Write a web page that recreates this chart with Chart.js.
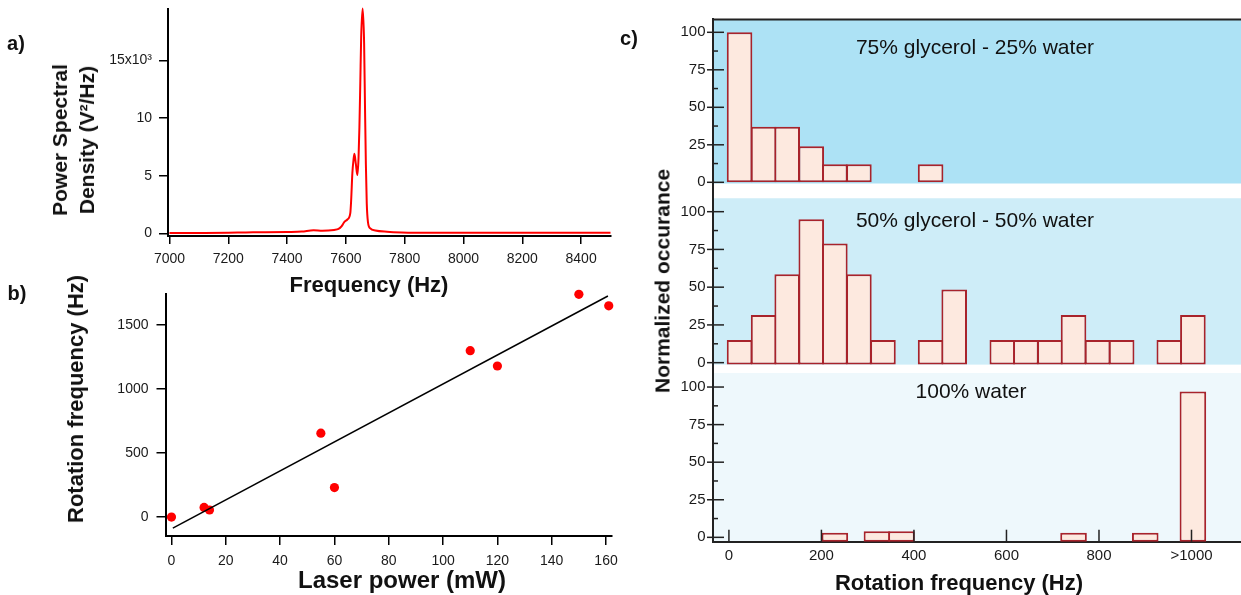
<!DOCTYPE html>
<html><head><meta charset="utf-8">
<script src="https://cdn.jsdelivr.net/npm/chart.js@4.4.1/dist/chart.umd.min.js"></script>
<style>
html,body{margin:0;padding:0;background:#fff;}
#wrap{position:relative;width:1241px;height:595px;overflow:hidden;background:#fff;font-family:"Liberation Sans",Arial,Helvetica,sans-serif;color:#111;}
canvas{position:absolute;}
.t{position:absolute;white-space:nowrap;line-height:1;transform:translate(-50%,-50%);}
.r{transform:translate(-50%,-50%) rotate(-90deg);}
.b{font-weight:bold;}
</style></head><body>
<div id="wrap">
<canvas id="ca" width="620" height="280" style="left:0;top:0"></canvas>
<canvas id="cb" width="620" height="315" style="left:0;top:280px"></canvas>
<canvas id="c1" width="621" height="191" style="left:620px;top:0"></canvas>
<canvas id="c2" width="621" height="178" style="left:620px;top:191px"></canvas>
<canvas id="c3" width="621" height="226" style="left:620px;top:369px"></canvas>

<div class="t b" style="left:16px;top:43px;font-size:20px">a)</div>
<div class="t b" style="left:17px;top:293px;font-size:20px">b)</div>
<div class="t b" style="left:629px;top:38px;font-size:20px">c)</div>
<div class="t b r" style="left:72.5px;top:139.5px;font-size:21px;line-height:27px;text-align:center">Power Spectral<br>Density (V²/Hz)</div>
<div class="t b" style="left:369px;top:285px;font-size:22px">Frequency (Hz)</div>
<div class="t b r" style="left:76px;top:399px;font-size:22px">Rotation frequency (Hz)</div>
<div class="t b" style="left:402px;top:580px;font-size:24px">Laser power (mW)</div>
<div class="t b r" style="left:662px;top:281px;font-size:21px">Normalized occurance</div>
<div class="t b" style="left:959px;top:583px;font-size:22px">Rotation frequency (Hz)</div>
<div class="t" style="left:975px;top:46px;font-size:21px">75% glycerol - 25% water</div>
<div class="t" style="left:975px;top:219px;font-size:21px">50% glycerol - 50% water</div>
<div class="t" style="left:971px;top:390px;font-size:21px">100% water</div>
</div>
<script>
// ---------- Panel a: power spectral density ----------
const psdFreqHz = [7000,7100,7200,7260,7300,7400,7450,7490,7520,7560,7575,7585,7595,7605,7615,7618,7622,7626,7629,7634,7639,7643,7646,7649,7652,7657,7662,7665,7668,7671,7675,7683,7700,7740,7790,7890,8000,8200,8400,8500];
const psdValue  = [40,40,50,80,90,120,150,260,230,300,380,600,1000,1200,1750,2900,5200,6400,6900,6000,5050,6500,9200,13000,17000,19500,16500,11000,6000,2600,1000,430,250,140,80,50,50,50,50,50];
const psdXTicks = [7000,7200,7400,7600,7800,8000,8200,8400];
const psdYTicks = [0,5000,10000,15000];
const psdTickLabels = ['0','5','10','15x10³'];

// ---------- Panel b: rotation frequency vs laser power ----------
const laserPowerMW   = [0, 12, 14, 55, 60, 110, 120, 150, 161];
const rotationFreqHz = [0, 75, 55, 655, 230, 1300, 1180, 1740, 1650];
const fitPowerMW = [0.5, 160.7];
const fitFreqHz  = [-86, 1727];
const powerTicks = [0,20,40,60,80,100,120,140,160];
const rotTicksB  = [0,500,1000,1500];

// ---------- Panel c: histograms ----------
const binCenterHz = [23, 75, 126, 178, 229, 281, 333, 384, 436, 487, 539, 591, 642, 694, 745, 797, 849, 900, 952, 1003];
const occ75Glycerol = [100, 37, 37, 24, 12, 12, null, null, 12, null, null, null, null, null, null, null, null, null, null, null];
const occ50Glycerol = [15, 31.5, 58.5, 95, 79, 58.5, 15, null, 15, 48.5, null, 15, 15, 15, 31.5, 15, 15, null, 15, 31.5];
const waterBinHz = [229, 320, 373, 745, 900, 1003];
const occWater   = [3, 4, 4, 3, 3, 97];
const rotTickValues = [0,200,400,600,800,1000];
const rotTickLabels = ['0','200','400','600','800','>1000'];
const occTicks = [0,25,50,75,100];

Chart.defaults.font.family = '"Liberation Sans", Arial, Helvetica, sans-serif';
Chart.defaults.color = '#1a1a1a';

function fixY(w){ return s => { s.width = w; s.paddingTop = 0; s.paddingBottom = 0; }; }
function fixX(h){ return s => { s.height = h; s.paddingLeft = 0; s.paddingRight = 0; }; }
function setTicks(vals){ return s => { s.ticks = vals.map(v => ({value:v})); }; }
const base = {responsive:false, animation:false, devicePixelRatio:1, events:[],
  plugins:{legend:{display:false}, tooltip:{enabled:false}, title:{display:false}}};
const axisBorder = {display:true, color:'#000', width:2};
function outTicks(len){ return {display:true, drawOnChartArea:false, drawTicks:true, tickLength:len, color:'#000', lineWidth:1.5}; }

// Panel a
new Chart(document.getElementById('ca'), {
  type:'line',
  data:{datasets:[{data: psdFreqHz.map((f,i)=>({x:f, y:psdValue[i]})), borderColor:'#ff0000', borderWidth:2,
    pointRadius:0, cubicInterpolationMode:'monotone', fill:false, clip:false}]},
  options:{...base, layout:{padding:{left:0, top:8.5, right:9.5, bottom:0}},
    scales:{
      x:{type:'linear', min:6995, max:8500, afterFit:fixX(44), afterBuildTicks:setTicks(psdXTicks),
         border:axisBorder, grid:outTicks(8),
         ticks:{autoSkip:false, maxRotation:0, minRotation:0, padding:6.5, font:{size:14},
           callback:v => String(v)}},
      y:{type:'linear', min:-230, max:19500, afterFit:fixY(168), afterBuildTicks:setTicks(psdYTicks),
         border:axisBorder, grid:outTicks(9),
         ticks:{padding:7, font:{size:14}, callback:v => psdTickLabels[psdYTicks.indexOf(v)]}}
    }}
});

// Panel b
new Chart(document.getElementById('cb'), {
  type:'scatter',
  data:{datasets:[
    {type:'line', data: fitPowerMW.map((p,i)=>({x:p, y:fitFreqHz[i]})), borderColor:'#000', borderWidth:1.5, pointRadius:0, fill:false, clip:false},
    {data: laserPowerMW.map((p,i)=>({x:p, y:rotationFreqHz[i]})), backgroundColor:'#ff0000', borderWidth:0, pointRadius:4.6, clip:false}
  ]},
  options:{...base, layout:{padding:{left:0, top:14.3, right:8, bottom:0}},
    scales:{
      x:{type:'linear', min:-2.2, max:162.2, afterFit:fixX(59), afterBuildTicks:setTicks(powerTicks),
         border:axisBorder, grid:outTicks(9),
         ticks:{autoSkip:false, maxRotation:0, minRotation:0, padding:8.2, font:{size:14}, callback:v => String(v)}},
      y:{type:'linear', min:-148, max:1740, afterFit:fixY(165.5), afterBuildTicks:setTicks(rotTicksB),
         border:axisBorder, grid:outTicks(9),
         ticks:{padding:8, font:{size:14}, callback:v => String(v)}}
    }}
});

// Panel c
const barStyle = {backgroundColor:'#fde9df', borderColor:'#a8232b', borderWidth:2, borderSkipped:false,
  barPercentage:1.085, categoryPercentage:1, clip:false};

function panelPlugin(cfg){
  return {
    id:'panel_'+cfg.name,
    beforeDraw(chart){
      const {ctx, chartArea:a, scales:{y}} = chart;
      const top = y.getPixelForValue(cfg.bgTop);
      const bot = y.getPixelForValue(cfg.bgBottom);
      ctx.save(); ctx.fillStyle = cfg.bg; ctx.fillRect(a.left, top, a.right - a.left, bot - top); ctx.restore();
    },
    afterDraw(chart){
      const {ctx, chartArea:a, scales:{x, y}} = chart;
      ctx.save();
      ctx.strokeStyle = '#222'; ctx.lineWidth = 1.5;
      y.ticks.forEach((t, i) => {
        const py = y.getPixelForValue(t.value);
        ctx.beginPath(); ctx.moveTo(a.left - 6, py); ctx.lineTo(a.left + 11, py); ctx.stroke();
        if (i < y.ticks.length - 1) {
          const pm = y.getPixelForValue((t.value + y.ticks[i+1].value) / 2);
          ctx.beginPath(); ctx.moveTo(a.left, pm); ctx.lineTo(a.left + 5, pm); ctx.stroke();
        }
      });
      if (cfg.topLine) {
        ctx.lineWidth = 2;
        ctx.beginPath(); ctx.moveTo(a.left, a.top); ctx.lineTo(a.right, a.top); ctx.stroke();
      }
      if (cfg.xTicks) {
        ctx.lineWidth = 1.5;
        x.ticks.forEach(t => {
          const px = x.getPixelForValue(t.value);
          ctx.beginPath(); ctx.moveTo(px, a.bottom); ctx.lineTo(px, a.bottom - 12); ctx.stroke();
        });
      }
      ctx.restore();
    }
  };
}

function histChart(id, pts, yMin, yMax, baseVal, xVisible, xHeight, padTop, plugCfg){
  return new Chart(document.getElementById(id), {
    type:'bar',
    data:{datasets:[{...barStyle, base:baseVal, data:pts}]},
    options:{...base, layout:{padding:{left:0, top:padTop, right:0, bottom:0}},
      scales:{
        x:{type:'linear', min:-34.4, max:1107, offset:false, display:xVisible,
           afterFit: xVisible ? fixX(xHeight) : undefined, afterBuildTicks:setTicks(rotTickValues),
           border:{display:true, color:'#222', width:2}, grid:{display:false, drawTicks:false, offset:false},
           ticks:{autoSkip:false, maxRotation:0, minRotation:0, padding:5, font:{size:15},
             callback:v => rotTickLabels[rotTickValues.indexOf(v)]}},
        y:{type:'linear', min:yMin, max:yMax, afterFit:fixY(93), beginAtZero:false, afterBuildTicks:setTicks(occTicks),
           border:{display:true, color:'#222', width:2}, grid:{display:false, drawTicks:false},
           ticks:{padding:7.5, font:{size:15}, callback:v => String(v)}}
      }},
    plugins:[panelPlugin(plugCfg)]
  });
}

histChart('c1', binCenterHz.map((x,i)=>({x, y:occ75Glycerol[i]})), -5.8, 108.6, 0, false, 0, 19.4,
  {name:'top', bg:'#ade2f5', bgTop:108.6, bgBottom:-0.8, topLine:true});
histChart('c2', binCenterHz.map((x,i)=>({x, y:occ50Glycerol[i]})), -4.2, 113.7, -1.3, false, 0, 0,
  {name:'mid', bg:'#ceedf8', bgTop:108.9, bgBottom:-1.3});
histChart('c3', waterBinHz.map((x,i)=>({x, y:occWater[i]})), -2.9, 112.0, -2.9, true, 53.3, 0,
  {name:'bot', bg:'#eef8fc', bgTop:109.3, bgBottom:-2.9, xTicks:true});
</script>
</body></html>
